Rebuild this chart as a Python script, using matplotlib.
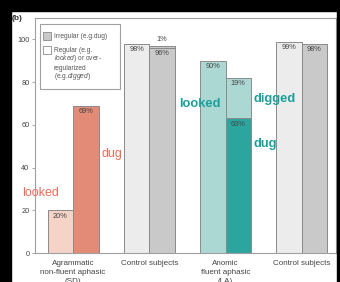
import matplotlib.pyplot as plt
import matplotlib.patches as patches

plt.rcParams['font.family'] = ['Liberation Sans', 'DejaVu Sans']
plt.rcParams['mathtext.fontset'] = 'custom'
plt.rcParams['mathtext.it'] = 'Liberation Sans:italic'
plt.rcParams['mathtext.rm'] = 'Liberation Sans'

groups = ["Agrammatic\nnon-fluent aphasic\n(SD)", "Control subjects",
          "Anomic\nfluent aphasic\n(LA)", "Control subjects"]
regular = [20, 98, 90, 99]        # looked
irregular = [69, 96, 63, 98]      # dug
overreg = [0, 1, 19, 0]           # digged
yticks = [0, 20, 40, 60, 80, 100]

reg_colors = ['#f5d3c7', '#ececec', '#acd8d4', '#ececec']
irr_colors = ['#e38b77', '#c9c9c9', '#2ba59e', '#c9c9c9']
over_colors = ['#acd8d4', '#c9c9c9', '#acd8d4', '#c9c9c9']
edge = '#8a8a8a'

W, H = 340, 282
fig = plt.figure(figsize=(W / 100, H / 100), dpi=100)
ax = fig.add_axes([35 / W, 1 - 253 / H, (336 - 35) / W, (253 - 18) / H])

def px(x, y):
    return x / W, 1 - y / H

centers = [0, 3, 6, 9]
for i, c in enumerate(centers):
    ax.bar(c - 0.5, regular[i], width=1, color=reg_colors[i], edgecolor=edge, lw=0.7)
    ax.bar(c + 0.5, irregular[i], width=1, color=irr_colors[i], edgecolor=edge, lw=0.7)
    if overreg[i] > 0:
        ax.bar(c + 0.5, overreg[i], bottom=irregular[i], width=1,
               color=over_colors[i], edgecolor=edge, lw=0.7)
    ax.text(c - 0.5, regular[i] - 1.2, f"{regular[i]}%", ha='center', va='top',
            fontsize=5.3, color='#444444')
    ax.text(c + 0.5, irregular[i] - 1.2, f"{irregular[i]}%", ha='center', va='top',
            fontsize=5.3, color='#444444')

# over-regularization labels
ax.text(centers[1] + 0.5, irregular[1] + overreg[1] + 1.2, f"{overreg[1]}%",
        ha='center', va='bottom', fontsize=5.3, color='#444444')
ax.text(centers[2] + 0.5, irregular[2] + overreg[2] - 1.2, f"{overreg[2]}%",
        ha='center', va='top', fontsize=5.3, color='#444444')

ax.set_xlim(-1.5, 10.35)
ax.set_ylim(0, 110)
ax.set_yticks(yticks)
ax.set_yticklabels([str(t) for t in yticks], fontsize=5.3, color='#444444')
ax.set_xticks(centers)
ax.set_xticklabels(groups, fontsize=5.8, color='#444444', linespacing=1.45)
ax.tick_params(axis='x', length=0, pad=5)
ax.tick_params(axis='y', length=2, width=0.6, color='#999999', pad=2)
for s in ax.spines.values():
    s.set_color('#a0a0a0')
    s.set_linewidth(0.8)
ax.set_ylabel("% correct", fontsize=5.3, color='#444444', labelpad=4)

# legend box
ax.add_patch(patches.Rectangle(px(40, 89), 80 / W, 65 / H, transform=fig.transFigure,
                               fill=False, edgecolor='#a0a0a0', lw=0.8))
ax.add_patch(patches.Rectangle(px(43, 40), 8 / W, 8 / H, transform=fig.transFigure,
                               facecolor='#c9c9c9', edgecolor=edge, lw=0.6))
ax.add_patch(patches.Rectangle(px(43, 54), 8 / W, 8 / H, transform=fig.transFigure,
                               facecolor='white', edgecolor=edge, lw=0.6))
fig.text(*px(54, 36), "Irregular (e.g.dug)", fontsize=4.8, color='#555555', va='center')
leg_lines = ["Regular (e.g.", r"$\it{looked}$) or over-", "regularized", r"(e.g.$\it{digged}$)"]
for k, line in enumerate(leg_lines):
    fig.text(*px(54, 50 + 9 * k), line, fontsize=4.8, color='#555555', va='center')

# annotations
fig.text(*px(22, 193), "looked", fontsize=9, color='#f26a55', va='center')
fig.text(*px(101, 154), "dug", fontsize=9, color='#f26a55', va='center')
fig.text(*px(179, 104), "looked", fontsize=9.3, color='#1b9f9a', va='center', weight='bold')
fig.text(*px(253, 99), "digged", fontsize=9.3, color='#1b9f9a', va='center', weight='bold')
fig.text(*px(253, 144), "dug", fontsize=9.3, color='#1b9f9a', va='center', weight='bold')

fig.text(*px(12, 19), "(b)", fontsize=6, weight='bold', color='#333333', va='center')

# scan borders
for x0, y0, w, h in [(0, 0, W, 11), (0, 0, 11, H), (337, 0, 3, H)]:
    fig.patches.append(patches.Rectangle(px(x0, y0 + h), w / W, h / H,
                                         transform=fig.transFigure, color='black', zorder=10))

fig.savefig("out.png", dpi=100, facecolor='white')
